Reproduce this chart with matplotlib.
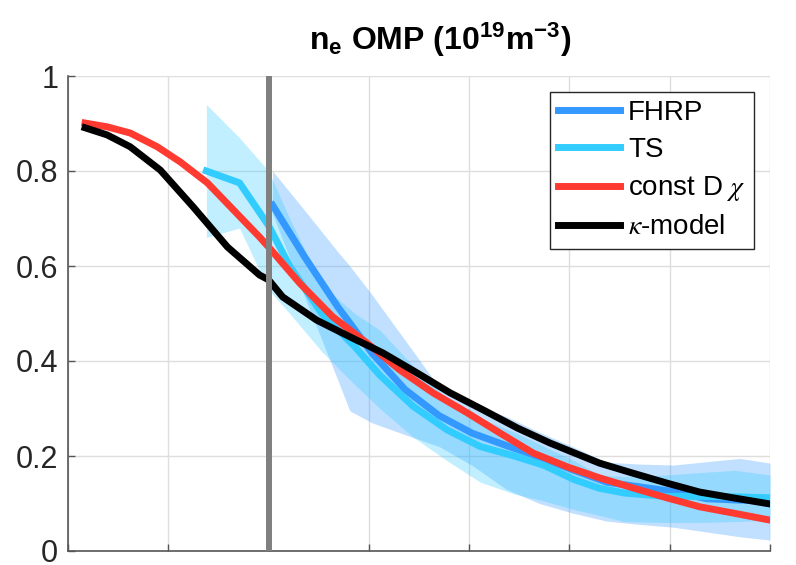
import numpy as np
import matplotlib
matplotlib.use("Agg")
import matplotlib.pyplot as plt

# --- data (x: cm, y: 1e19 m^-3) ---
black_x = [-1.83, -1.61, -1.38, -1.08, -0.75, -0.41, -0.09, 0.0, 0.14, 0.48, 0.81, 1.14, 1.48, 1.81,
           2.14, 2.48, 2.81, 3.30, 3.63, 3.97, 4.30, 4.63, 5.0]
black_y = [0.891, 0.876, 0.851, 0.802, 0.724, 0.640, 0.581, 0.571, 0.535, 0.486, 0.451, 0.417, 0.375, 0.333,
           0.297, 0.259, 0.227, 0.185, 0.164, 0.143, 0.124, 0.112, 0.099]

red_x = [-1.83, -1.61, -1.38, -1.11, -0.88, -0.61, -0.35, -0.09, 0.0, 0.31, 0.64, 0.98, 1.31, 1.64,
         1.98, 2.31, 2.64, 2.98, 3.30, 3.63, 3.97, 4.30, 4.63, 5.0]
red_y = [0.901, 0.893, 0.880, 0.851, 0.819, 0.775, 0.718, 0.661, 0.640, 0.564, 0.493, 0.438, 0.381, 0.333,
         0.291, 0.248, 0.206, 0.177, 0.154, 0.133, 0.112, 0.093, 0.080, 0.065]

ts_x = [-0.62, -0.29, 0.0, 0.21, 0.53, 0.86, 1.11, 1.44, 1.78, 2.11, 2.45, 2.75, 3.05, 3.3, 3.55,
        3.95, 4.3, 4.65, 5.0]
ts_y = [0.80, 0.775, 0.685, 0.60, 0.50, 0.43, 0.37, 0.305, 0.255, 0.22, 0.20, 0.18, 0.15, 0.132, 0.122,
        0.115, 0.115, 0.114, 0.112]
ts_hi = [0.94, 0.87, 0.80, 0.70, 0.56, 0.50, 0.465, 0.39, 0.32, 0.28, 0.25, 0.22, 0.19, 0.16, 0.157,
         0.16, 0.165, 0.17, 0.16]
ts_lo = [0.66, 0.68, 0.55, 0.50, 0.42, 0.35, 0.30, 0.24, 0.19, 0.145, 0.12, 0.105, 0.087, 0.075, 0.062,
         0.06, 0.06, 0.062, 0.065]

fh_x = [0.04, 0.36, 0.69, 0.81, 1.03, 1.36, 1.70, 2.03, 2.37, 2.70, 3.03, 3.37, 3.70, 4.04, 4.37, 4.70, 5.0]
fh_y = [0.728, 0.619, 0.514, 0.48, 0.417, 0.34, 0.285, 0.248, 0.222, 0.198, 0.171, 0.145, 0.135, 0.125,
        0.11, 0.107, 0.107]
fh_hi = [0.80, 0.717, 0.63, 0.60, 0.54, 0.444, 0.345, 0.31, 0.283, 0.25, 0.22, 0.187, 0.183, 0.181,
         0.188, 0.195, 0.185]
fh_lo = [0.71, 0.535, 0.36, 0.295, 0.27, 0.245, 0.22, 0.18, 0.13, 0.10, 0.08, 0.063, 0.056, 0.05,
         0.04, 0.03, 0.023]

sep_x = 0.0
yticks = [0, 0.2, 0.4, 0.6, 0.8, 1]
ytick_labels = ["0", "0.2", "0.4", "0.6", "0.8", "1"]

plt.rcParams["font.family"] = ["Liberation Sans", "DejaVu Sans"]
plt.rcParams["mathtext.fontset"] = "custom"
plt.rcParams["mathtext.rm"] = "Liberation Sans"
plt.rcParams["mathtext.bf"] = "Liberation Sans:bold"
plt.rcParams["mathtext.it"] = "Liberation Sans:italic"

c_fh, c_ts, c_red = "#3399ff", "#33ccff", "#ff3a30"
lw = 5

fig = plt.figure(figsize=(7.96, 5.65), dpi=100)
ax = fig.add_axes([68 / 796, 14 / 565, 702 / 796, 475 / 565])

ax.fill_between(fh_x, fh_lo, fh_hi, color=c_fh, alpha=0.3, lw=0)
ax.fill_between(ts_x, ts_lo, ts_hi, color=c_ts, alpha=0.3, lw=0)
ax.plot(fh_x, fh_y, color=c_fh, lw=lw, label="FHRP")
ax.plot(ts_x, ts_y, color=c_ts, lw=lw, label="TS")
ax.plot(red_x, red_y, color=c_red, lw=lw, label=r"const D $\chi$", solid_joinstyle="round")
ax.plot(black_x, black_y, color="black", lw=lw, label=r"$\kappa$-model", solid_joinstyle="round")
ax.axvline(sep_x, color="#808080", lw=4.3, zorder=5)

ax.set_xlim(-2, 5); ax.set_ylim(0, 1)
ax.set_xticks(range(-2, 6)); ax.set_xticklabels([])
ax.set_yticks(yticks); ax.set_yticklabels(ytick_labels)
ax.grid(True, color="#dedede", lw=1)
ax.set_axisbelow(True)
for s in ("top", "right"):
    ax.spines[s].set_visible(False)
for s in ("left", "bottom"):
    ax.spines[s].set_color("#555555"); ax.spines[s].set_linewidth(1.2)
ax.tick_params(direction="in", length=5, width=1, colors="#555555", labelcolor="#262626",
               labelsize=22, pad=7)

ax.set_title(r"$\mathbf{n_e\ OMP\ (10^{19}m^{-3})}$", fontsize=23, pad=19, x=0.53)

leg = ax.legend(loc="upper right", bbox_to_anchor=(0.977, 0.967), fontsize=20, frameon=True,
                fancybox=False, edgecolor="#262626", framealpha=1, handlelength=2.2,
                handletextpad=0.3, labelspacing=0.4, borderpad=0.3, borderaxespad=0)
leg.get_frame().set_linewidth(1)
for t in leg.get_texts()[2:]:
    t.set_math_fontfamily("stix")

fig.savefig("out.png", dpi=100)
